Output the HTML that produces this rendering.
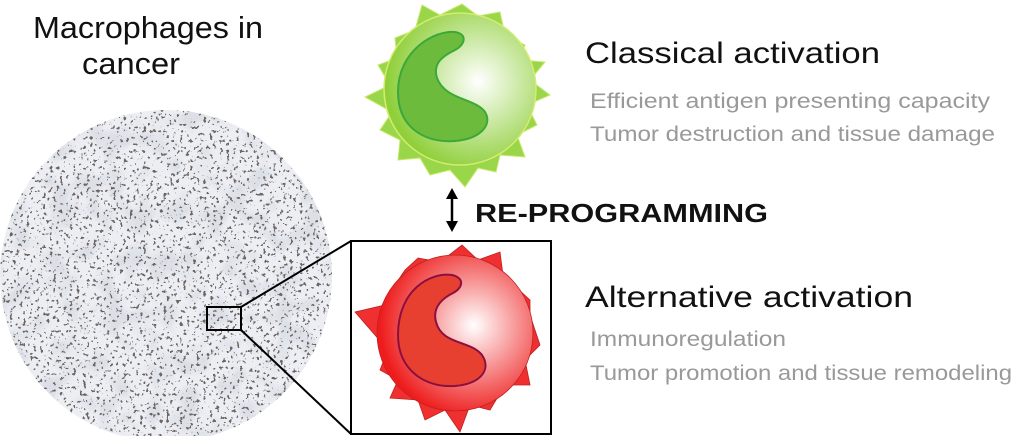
<!DOCTYPE html>
<html><head><meta charset="utf-8"><style>
body{margin:0;width:1024px;height:436px;overflow:hidden;background:#fff;font-family:"Liberation Sans",sans-serif}
</style></head><body>
<svg width="1024" height="436" viewBox="0 0 1024 436" xmlns="http://www.w3.org/2000/svg">
<defs>
<radialGradient id="gg" cx="0.62" cy="0.45" r="0.6"><stop offset="0" stop-color="#fff"/><stop offset="1" stop-color="#8fcf3a"/></radialGradient>
<radialGradient id="rg" cx="0.62" cy="0.45" r="0.6"><stop offset="0" stop-color="#fff"/><stop offset="1" stop-color="#ee1c1c"/></radialGradient>
<filter id="tex" x="0" y="0" width="100%" height="100%">
<feTurbulence type="fractalNoise" baseFrequency="0.04" numOctaves="2" seed="7" result="m"/>
<feColorMatrix in="m" type="matrix" values="0 0 0 0 0.72  0 0 0 0 0.74  0 0 0 0 0.80  0 0 0 -4 2.2" result="b"/>
<feTurbulence type="fractalNoise" baseFrequency="0.3" numOctaves="2" seed="4" result="n"/>
<feColorMatrix in="n" type="matrix" values="0 0 0 0 0.15  0 0 0 0 0.13  0 0 0 0 0.12  0 0 0 -22 8.2" result="d"/>
<feMerge><feMergeNode in="b"/><feMergeNode in="d"/></feMerge>
</filter>
<clipPath id="cc"><circle cx="166" cy="276" r="166"/></clipPath>
</defs>
<circle cx="166" cy="276" r="166" fill="#eceef3"/>
<rect x="0" y="110" width="332" height="332" filter="url(#tex)" clip-path="url(#cc)"/>
<rect x="207" y="307" width="34" height="23" fill="none" stroke="#000" stroke-width="2"/>
<line x1="241" y1="307" x2="351" y2="241" stroke="#000" stroke-width="2"/>
<line x1="241" y1="330" x2="351" y2="434" stroke="#000" stroke-width="2"/>
<rect x="351" y="241" width="200" height="193" fill="#fff" stroke="#000" stroke-width="2"/>
<polygon fill="#9ad64a" stroke="#c8e86a" points="422,5 440,15 462,4 478,16 500,12 505,35 525,45 520,60 545,62 530,80 550,95 527,105 537,125 517,135 525,157 500,155 496,172 478,168 465,187 450,170 430,175 420,158 398,160 400,140 380,130 392,112 365,97 390,85 378,65 397,58 395,38 415,30"/>
<circle cx="460" cy="89" r="76" fill="url(#gg)" stroke="#d4ec70" stroke-width="1.5"/>
<path d="M455,32 C435,30 398,50 398,92 C398,128 425,143 455,141 C480,139 493,125 485,112 C475,98 445,100 437,78 C432,62 445,55 455,50 C465,45 468,34 455,32Z" fill="#6cbb3c" stroke="#3da83a" stroke-width="2"/>
<polygon fill="#f03030" stroke="#c02020" stroke-width="0.8" points="418,258 440,262 462,245 478,260 500,252 503,275 530,300 530,315 540,345 525,360 530,385 505,385 490,410 470,405 460,432 445,410 425,420 418,400 390,398 398,380 380,370 388,350 355,312 385,305 395,285 405,270"/>
<circle cx="455" cy="333" r="78" fill="url(#rg)" stroke="#c02020" stroke-width="0.8"/>
<path d="M452,275 C430,272 398,290 398,335 C398,370 425,388 455,386 C480,384 492,370 482,355 C470,340 442,345 436,322 C432,307 443,298 453,293 C463,288 465,278 452,275Z" fill="#e84030" stroke="#8a1040" stroke-width="2"/>
<line x1="452" y1="196" x2="452" y2="224" stroke="#000" stroke-width="2.5"/>
<polygon points="452,188 446,199 458,199" fill="#000"/>
<polygon points="452,232 446,221 458,221" fill="#000"/>
<g font-family="Liberation Sans, sans-serif">
<text x="33" y="38" font-size="31" fill="#111" textLength="230" lengthAdjust="spacingAndGlyphs">Macrophages in</text>
<text x="82" y="74" font-size="31" fill="#111" textLength="98" lengthAdjust="spacingAndGlyphs">cancer</text>
<text x="585" y="63" font-size="30" fill="#111" textLength="295" lengthAdjust="spacingAndGlyphs">Classical activation</text>
<text x="590" y="108" font-size="21" fill="#999" textLength="400" lengthAdjust="spacingAndGlyphs">Efficient antigen presenting capacity</text>
<text x="590" y="141" font-size="21" fill="#999" textLength="405" lengthAdjust="spacingAndGlyphs">Tumor destruction and tissue damage</text>
<text x="475" y="222" font-size="26" font-weight="bold" fill="#111" textLength="293" lengthAdjust="spacingAndGlyphs">RE-PROGRAMMING</text>
<text x="585" y="307" font-size="30" fill="#111" textLength="328" lengthAdjust="spacingAndGlyphs">Alternative activation</text>
<text x="590" y="346" font-size="21" fill="#999" textLength="196" lengthAdjust="spacingAndGlyphs">Immunoregulation</text>
<text x="590" y="380" font-size="21" fill="#999" textLength="422" lengthAdjust="spacingAndGlyphs">Tumor promotion and tissue remodeling</text>
</g>
</svg>
</body></html>
